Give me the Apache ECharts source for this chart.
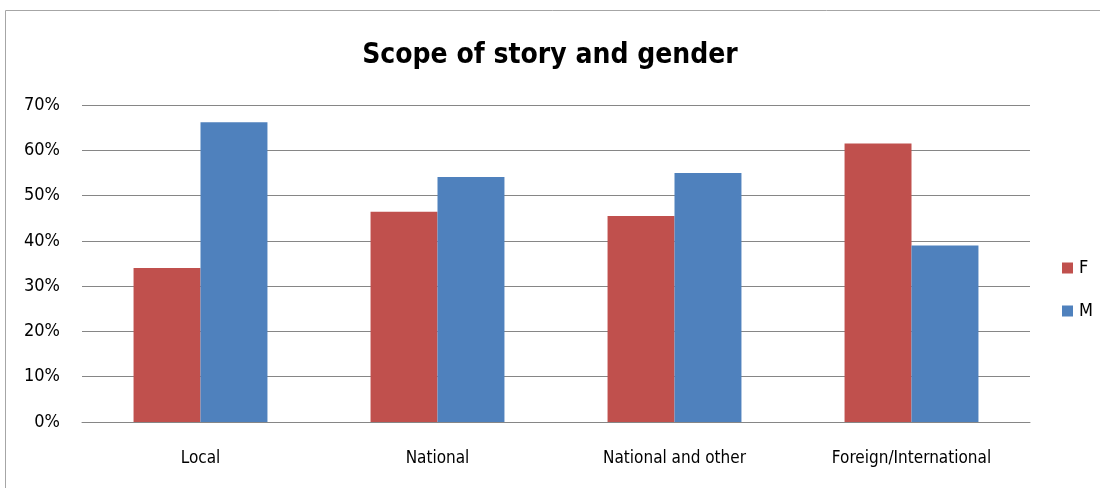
<!DOCTYPE html>
<html>
<head>
<meta charset="utf-8">
<script src="https://cdn.jsdelivr.net/npm/echarts@6/dist/echarts.min.js"></script>
<style>
  html, body { margin: 0; padding: 0; background: #fff; }
  #chart { width: 1100px; height: 488px; }
</style>
</head>
<body>
<div id="chart"></div>
<script>
// Share of stories by scope, split by gender of the subject (percent)
const categories = ['Local', 'National', 'National and other', 'Foreign/International'];
const femaleShare = [34.0, 46.4, 45.5, 61.5];
const maleShare = [66.2, 54.1, 55.0, 39.0];
const yTicks = [0, 10, 20, 30, 40, 50, 60, 70];

const FONT = '"DejaVu Sans Condensed", "Open Sans", sans-serif';

const chart = echarts.init(document.getElementById('chart'), null, { renderer: 'canvas' });

chart.setOption({
  backgroundColor: '#ffffff',
  animation: false,
  title: {
    text: 'Scope of story and gender',
    left: 'center',
    top: 37,
    textStyle: { fontFamily: FONT, fontWeight: 'bold', fontSize: 28, color: '#000' }
  },
  legend: {
    orient: 'vertical',
    left: 1057,
    top: 254,
    itemWidth: 11,
    itemHeight: 11,
    itemGap: 25,
    icon: 'rect',
    textStyle: { fontFamily: FONT, fontSize: 18, color: '#000', padding: [0, 0, 0, 1] },
    data: ['F', 'M']
  },
  // chart frame: top and left edges
  graphic: [
    {
      type: 'line',
      shape: { x1: 5.5, y1: 10.5, x2: 1100, y2: 10.5 },
      style: { stroke: '#a6a6a6', lineWidth: 1 },
      silent: true
    },
    {
      type: 'line',
      shape: { x1: 5.5, y1: 10.5, x2: 5.5, y2: 488 },
      style: { stroke: '#a6a6a6', lineWidth: 1 },
      silent: true
    }
  ],
  grid: { left: 82, right: 70, top: 105, bottom: 66, containLabel: false },
  xAxis: {
    type: 'category',
    data: categories,
    axisLine: { show: true, lineStyle: { color: '#868686' } },
    axisTick: { show: false },
    axisLabel: { fontFamily: FONT, fontSize: 17, color: '#000', margin: 28 }
  },
  yAxis: {
    type: 'value',
    min: yTicks[0],
    max: yTicks[yTicks.length - 1],
    interval: 10,
    axisLine: { show: false },
    axisTick: { show: false },
    splitLine: { lineStyle: { color: '#868686', width: 1 } },
    axisLabel: {
      fontFamily: FONT, fontSize: 18, color: '#000', margin: 22,
      formatter: v => v + '%'
    }
  },
  series: [
    {
      name: 'F', type: 'bar', data: femaleShare,
      itemStyle: { color: '#c0504d' },
      barGap: '0%', barCategoryGap: '43.5%'
    },
    {
      name: 'M', type: 'bar', data: maleShare,
      itemStyle: { color: '#4f81bd' },
      barGap: '0%', barCategoryGap: '43.5%'
    }
  ]
});
</script>
</body>
</html>
